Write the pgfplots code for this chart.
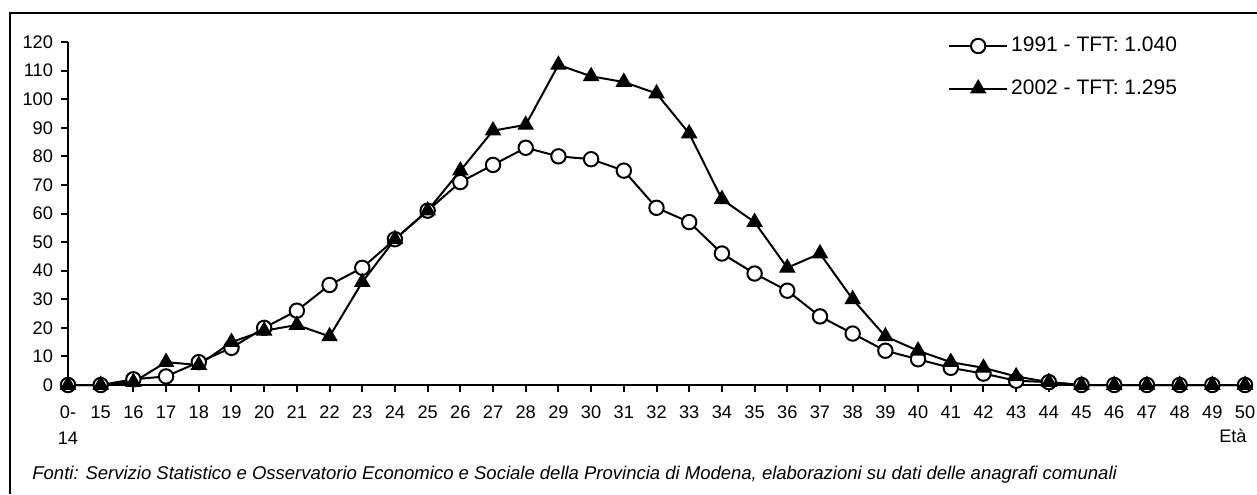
\documentclass[border=0pt]{standalone}
\usepackage{fontspec}
\setmainfont{Liberation Sans}
\usepackage{pgfplots}
\pgfplotsset{compat=1.18}

% 1 px of the reference = 0.5pt
\begin{document}
\begin{tikzpicture}
\useasboundingbox (0,0) rectangle (628.5pt,-247pt);
% frame (only left and top edges are in the crop)
\draw[line width=1pt] (5pt,-247pt) -- (5pt,-6.5pt) -- (628.5pt,-6.5pt);

\begin{axis}[
  at={(34pt,-192.5pt)}, anchor=south west,
  scale only axis,
  width=588.5pt, height=171.5pt,
  xmin=0, xmax=36, ymin=0, ymax=120,
  clip=false,
  axis x line=bottom, axis y line=left,
  axis line style={-, line width=1pt},
  every tick/.style={black, line width=1pt},
  tick align=outside, major tick length=3.5pt,
  xtick={0,...,36},
  xticklabels={{0-\\14},15,16,17,18,19,20,21,22,23,24,25,26,27,28,29,30,31,32,33,34,35,36,37,38,39,40,41,42,43,44,45,46,47,48,49,50},
  ytick={0,10,...,120},
  /pgf/number format/assume math mode=true,
  tick label style={font=\fontsize{9.1}{13}\selectfont},
  xticklabel style={align=center, yshift=-3.5pt},
  yticklabel style={xshift=-0.5pt},
  legend style={at={(rel axis cs:0.7475,1.024)}, anchor=north west, draw=none, fill=none,
    font=\fontsize{10.5}{12}\selectfont, row sep=9.5pt, inner sep=0pt,
    nodes={inner sep=1.5pt}},
  legend cell align=left,
  legend image code/.code={\draw[mark repeat=2,mark phase=2] plot coordinates {(0pt,0pt) (14.5pt,0pt) (29pt,0pt)};},
]
% 1991
\addplot[black, line width=1pt, mark=*, mark size=3.6pt, mark options={fill=white, line width=1pt}]
coordinates {(0,0) (1,0) (2,2) (3,3) (4,8) (5,13) (6,20) (7,26) (8,35) (9,41) (10,51) (11,61) (12,71) (13,77) (14,83) (15,80) (16,79) (17,75) (18,62) (19,57) (20,46) (21,39) (22,33) (23,24) (24,18) (25,12) (26,9) (27,6) (28,4) (29,1.5) (30,1) (31,0) (32,0) (33,0) (34,0) (35,0) (36,0)};
% 2002
\addplot[black, line width=1pt, mark=triangle*, mark size=4.2pt, mark options={fill=black, line width=0.6pt}]
coordinates {(0,0) (1,0) (2,1) (3,8) (4,7) (5,15) (6,19) (7,21) (8,17) (9,36) (10,51) (11,61) (12,75) (13,89) (14,91) (15,112) (16,108) (17,106) (18,102) (19,88) (20,65) (21,57) (22,41) (23,46) (24,30) (25,17) (26,12) (27,8) (28,6) (29,3) (30,1) (31,0) (32,0) (33,0) (34,0) (35,0) (36,0)};
\legend{1991 - TFT: 1.040, 2002 - TFT: 1.295}
\node[anchor=base east, inner sep=0pt, font=\fontsize{9.1}{13}\selectfont] at (rel axis cs:1.0017,-0.169) {Età};
\end{axis}

\node[anchor=base west, inner sep=0pt, font=\fontsize{9.25}{12}\selectfont\itshape] at (16pt,-239.5pt)
  {Fonti: Servizio Statistico e Osservatorio Economico e Sociale della Provincia di Modena, elaborazioni su dati delle anagrafi comunali};
\end{tikzpicture}
\end{document}
